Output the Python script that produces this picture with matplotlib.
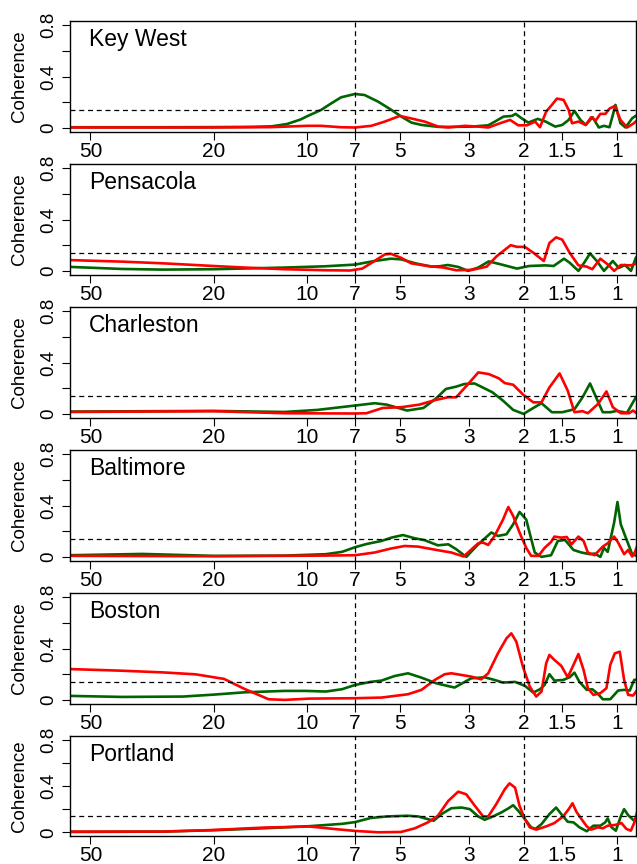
import matplotlib
matplotlib.use("Agg")
import matplotlib.pyplot as plt
from matplotlib.ticker import NullLocator

plt.rcParams["font.family"] = ["Liberation Sans", "DejaVu Sans"]

# period (years) and coherence, per station and series
key_west_grn_per = [58.2, 30, 20, 15, 13, 11.6, 10.5, 10, 9.0, 8.36, 7.76, 7.0, 6.52, 5.9, 5.34,
                    4.96, 4.6, 4.27, 3.77, 3.33, 2.94, 2.6, 2.47, 2.32, 2.18, 2.12, 2.03, 1.93,
                    1.8, 1.7, 1.58, 1.5, 1.43, 1.37, 1.31, 1.26, 1.197, 1.143, 1.1, 1.056, 1.03,
                    1.01, 0.973, 0.937, 0.892, 0.853]
key_west_grn_coh = [0.005, 0.005, 0.006, 0.008, 0.012, 0.03, 0.065, 0.09, 0.14, 0.19, 0.238,
                    0.264, 0.256, 0.205, 0.14, 0.088, 0.041, 0.023, 0.008, 0.008, 0.01, 0.02,
                    0.05, 0.088, 0.093, 0.109, 0.075, 0.041, 0.07, 0.05, 0.01, 0.023, 0.062,
                    0.132, 0.062, 0.023, 0.083, 0.003, 0.016, 0.005, 0.1, 0.179, 0.036, 0.003,
                    0.075, 0.106]
key_west_red_per = [58.2, 20, 13, 10, 9.0, 7.76, 7.0, 6.2, 5.61, 5.02, 4.6, 4.17, 3.77, 3.5,
                    3.09, 2.8, 2.6, 2.35, 2.21, 2.08, 1.95, 1.835, 1.77, 1.69, 1.62, 1.56,
                    1.485, 1.43, 1.395, 1.33, 1.26, 1.21, 1.17, 1.13, 1.088, 1.056, 1.015,
                    0.973, 0.926, 0.881, 0.853]
key_west_red_coh = [0.003, 0.003, 0.006, 0.016, 0.016, 0.005, 0.003, 0.016, 0.049, 0.093,
                    0.073, 0.049, 0.01, 0.003, 0.016, 0.01, 0.003, 0.041, 0.062, 0.02, 0.02,
                    0.049, 0.005, 0.127, 0.179, 0.228, 0.218, 0.14, 0.036, 0.049, 0.023,
                    0.083, 0.057, 0.109, 0.109, 0.15, 0.171, 0.062, 0.003, 0.036, 0.067]

pensacola_grn_per = [58.2, 39.5, 29.2, 20, 11.8, 8.7, 7.0, 6.05, 5.36, 4.97, 4.47, 3.96, 3.73,
                     3.51, 3.25, 3.02, 2.8, 2.59, 2.37, 2.1, 1.92, 1.7, 1.6, 1.48, 1.42, 1.33,
                     1.27, 1.22, 1.16, 1.1, 1.03, 0.985, 0.941, 0.9, 0.868]
pensacola_grn_coh = [0.031, 0.015, 0.01, 0.013, 0.026, 0.036, 0.049, 0.077, 0.095, 0.09,
                     0.059, 0.033, 0.036, 0.046, 0.031, 0.0, 0.026, 0.074, 0.051, 0.018,
                     0.038, 0.043, 0.038, 0.095, 0.064, 0.0, 0.069, 0.136, 0.077, 0.0, 0.077,
                     0.023, 0.046, 0.0, 0.102]
pensacola_red_per = [58.2, 39.5, 29.2, 20, 15.9, 11.8, 8.7, 7.26, 6.63, 6.05, 5.61, 5.36, 4.97,
                     4.61, 4.08, 3.62, 3.3, 2.93, 2.63, 2.44, 2.2, 2.1, 1.98, 1.86, 1.72, 1.65,
                     1.57, 1.5, 1.42, 1.33, 1.25, 1.2, 1.13, 1.06, 1.02, 0.97, 0.9, 0.868]
pensacola_red_coh = [0.084, 0.072, 0.059, 0.038, 0.026, 0.013, 0.005, 0.003, 0.018, 0.077,
                     0.128, 0.133, 0.102, 0.059, 0.038, 0.026, 0.005, 0.008, 0.033, 0.115,
                     0.2, 0.187, 0.187, 0.141, 0.077, 0.217, 0.261, 0.243, 0.141, 0.043,
                     0.033, 0.013, 0.095, 0.043, 0.0, 0.046, 0.043, 0.056]

charleston_grn_per = [58.2, 20, 11.8, 9.25, 7.0, 6.05, 5.53, 4.75, 4.21, 3.85, 3.56, 3.3,
                      3.11, 2.88, 2.71, 2.52, 2.33, 2.16, 2.0, 1.86, 1.75, 1.62, 1.5, 1.37,
                      1.29, 1.22, 1.16, 1.11, 1.05, 1.0, 0.927, 0.868]
charleston_grn_coh = [0.018, 0.023, 0.015, 0.031, 0.065, 0.083, 0.072, 0.026, 0.046, 0.116,
                      0.194, 0.212, 0.232, 0.237, 0.206, 0.168, 0.103, 0.031, 0.0, 0.046,
                      0.083, 0.013, 0.013, 0.036, 0.129, 0.237, 0.116, 0.013, 0.013, 0.023,
                      0.008, 0.129]
charleston_red_per = [58.2, 20, 11.8, 7.0, 6.43, 5.7, 4.97, 4.34, 3.85, 3.51, 3.3, 3.02, 2.8,
                      2.59, 2.4, 2.3, 2.16, 2.0, 1.86, 1.75, 1.65, 1.53, 1.44, 1.37, 1.29,
                      1.24, 1.15, 1.08, 1.03, 0.97, 0.913, 0.886, 0.868]
charleston_red_coh = [0.015, 0.021, 0.005, 0.003, 0.005, 0.046, 0.052, 0.072, 0.108, 0.129,
                      0.129, 0.232, 0.323, 0.31, 0.276, 0.24, 0.227, 0.147, 0.09, 0.09,
                      0.206, 0.315, 0.181, 0.013, 0.021, 0.005, 0.077, 0.175, 0.052, 0.005,
                      0.005, 0.026, 0.01]

baltimore_grn_per = [58.2, 34, 20, 11.8, 8.7, 7.71, 7.0, 6.43, 5.75, 5.34, 4.9, 4.49, 4.17,
                     3.78, 3.5, 3.3, 3.06, 2.8, 2.54, 2.42, 2.27, 2.16, 2.06, 1.96, 1.9, 1.84,
                     1.75, 1.63, 1.55, 1.47, 1.38, 1.3, 1.22, 1.18, 1.13, 1.1, 1.07, 1.02,
                     0.995, 0.971, 0.931, 0.892, 0.864]
baltimore_grn_coh = [0.013, 0.023, 0.008, 0.01, 0.021, 0.039, 0.075, 0.1, 0.124, 0.15, 0.17,
                     0.145, 0.13, 0.09, 0.098, 0.06, 0.0, 0.098, 0.19, 0.163, 0.176, 0.254,
                     0.35, 0.29, 0.163, 0.034, 0.0, 0.013, 0.124, 0.132, 0.054, 0.034, 0.021,
                     0.026, 0.0, 0.07, 0.039, 0.267, 0.427, 0.254, 0.137, 0.021, 0.008]
baltimore_red_per = [58.2, 20, 8.7, 7.0, 6.05, 5.36, 4.84, 4.38, 3.78, 3.42, 3.12, 2.98, 2.8,
                     2.7, 2.6, 2.48, 2.33, 2.24, 2.16, 2.06, 1.96, 1.89, 1.79, 1.71, 1.63,
                     1.59, 1.51, 1.45, 1.4, 1.33, 1.28, 1.24, 1.18, 1.11, 1.07, 1.02, 0.99,
                     0.947, 0.919, 0.892, 0.875, 0.858]
baltimore_red_coh = [0.008, 0.005, 0.01, 0.013, 0.034, 0.065, 0.085, 0.08, 0.052, 0.034,
                     0.003, 0.047, 0.106, 0.111, 0.093, 0.163, 0.29, 0.388, 0.318, 0.189,
                     0.07, 0.008, 0.008, 0.07, 0.116, 0.158, 0.15, 0.155, 0.098, 0.158, 0.124,
                     0.034, 0.013, 0.08, 0.106, 0.158, 0.111, 0.021, 0.054, 0.003, 0.034, 0.09]

boston_grn_per = [58.2, 39.5, 25.1, 20, 15.9, 11.8, 10.1, 8.7, 7.71, 7.0, 6.24, 5.75, 5.21,
                  4.72, 4.27, 3.82, 3.34, 2.95, 2.67, 2.48, 2.33, 2.13, 1.98, 1.86, 1.77, 1.71,
                  1.65, 1.59, 1.49, 1.42, 1.37, 1.32, 1.25, 1.2, 1.15, 1.11, 1.05, 0.99,
                  0.947, 0.908, 0.879, 0.858]
boston_grn_coh = [0.031, 0.023, 0.026, 0.041, 0.059, 0.07, 0.07, 0.065, 0.083, 0.116, 0.14,
                  0.15, 0.186, 0.207, 0.173, 0.129, 0.096, 0.168, 0.176, 0.155, 0.135, 0.14,
                  0.109, 0.057, 0.083, 0.117, 0.2, 0.15, 0.155, 0.176, 0.212, 0.14, 0.078,
                  0.083, 0.047, 0.005, 0.005, 0.073, 0.078, 0.073, 0.155, 0.16]
boston_red_per = [58.2, 39.5, 29.2, 22.9, 18.5, 15.9, 13.3, 11.8, 9.8, 7.0, 5.75, 4.72, 4.27,
                  3.87, 3.59, 3.42, 3.17, 2.95, 2.74, 2.6, 2.42, 2.27, 2.19, 2.11, 2.01, 1.91,
                  1.82, 1.75, 1.69, 1.65, 1.59, 1.51, 1.44, 1.38, 1.33, 1.28, 1.24, 1.19,
                  1.13, 1.08, 1.05, 1.015, 0.978, 0.947, 0.919, 0.886, 0.858]
boston_red_coh = [0.24, 0.227, 0.214, 0.199, 0.163, 0.085, 0.005, 0.0, 0.01, 0.013, 0.018,
                  0.044, 0.078, 0.155, 0.2, 0.207, 0.194, 0.181, 0.16, 0.207, 0.362, 0.479,
                  0.518, 0.453, 0.259, 0.104, 0.026, 0.065, 0.285, 0.35, 0.311, 0.264, 0.176,
                  0.272, 0.357, 0.233, 0.091, 0.039, 0.052, 0.091, 0.272, 0.362, 0.375,
                  0.155, 0.039, 0.034, 0.078]

portland_grn_per = [58.2, 29.2, 20, 13.7, 9.8, 7.71, 7.0, 6.24, 5.53, 4.75, 4.38, 3.9, 3.68,
                    3.42, 3.17, 2.98, 2.8, 2.67, 2.51, 2.36, 2.24, 2.16, 2.08, 1.98, 1.89,
                    1.83, 1.75, 1.65, 1.57, 1.49, 1.44, 1.38, 1.32, 1.25, 1.19, 1.13, 1.09,
                    1.07, 1.04, 1.007, 0.971, 0.947, 0.919, 0.879, 0.858]
portland_grn_coh = [0.003, 0.006, 0.018, 0.035, 0.053, 0.073, 0.088, 0.123, 0.137, 0.143,
                    0.137, 0.1, 0.157, 0.208, 0.214, 0.2, 0.137, 0.108, 0.137, 0.171, 0.206,
                    0.234, 0.186, 0.114, 0.043, 0.029, 0.071, 0.157, 0.214, 0.137, 0.091,
                    0.086, 0.043, 0.009, 0.057, 0.057, 0.086, 0.12, 0.043, 0.014, 0.137, 0.2,
                    0.148, 0.1, 0.137]
portland_red_per = [58.2, 29.2, 20, 13.7, 9.8, 8.19, 7.0, 5.87, 4.97, 4.49, 4.07, 3.78, 3.5,
                    3.25, 3.06, 2.87, 2.7, 2.6, 2.45, 2.3, 2.22, 2.13, 2.06, 1.98, 1.91, 1.82,
                    1.69, 1.59, 1.49, 1.43, 1.39, 1.35, 1.3, 1.25, 1.21, 1.15, 1.11, 1.07,
                    1.015, 0.966, 0.931, 0.901, 0.879, 0.858]
portland_red_coh = [0.006, 0.006, 0.02, 0.041, 0.05, 0.029, 0.012, 0.0, 0.003, 0.034, 0.086,
                    0.143, 0.271, 0.351, 0.328, 0.228, 0.137, 0.137, 0.243, 0.371, 0.423,
                    0.386, 0.228, 0.114, 0.043, 0.023, 0.051, 0.08, 0.137, 0.2, 0.251, 0.177,
                    0.114, 0.051, 0.023, 0.043, 0.034, 0.057, 0.063, 0.08, 0.029, 0.014, 0.08,
                    0.186]

station_names = ["Key West", "Pensacola", "Charleston", "Baltimore", "Boston", "Portland"]
period_ticks = [50, 20, 10, 7, 5, 3, 2, 1.5, 1]
period_labels = ["50", "20", "10", "7", "5", "3", "2", "1.5", "1"]
coh_ticks = [0, 0.2, 0.4, 0.6, 0.8]
coh_labels = ["0", "", "0.4", "", "0.8"]
marked_periods = [7, 2]
signif_level = 0.138

series = [
    (key_west_grn_per, key_west_grn_coh, key_west_red_per, key_west_red_coh),
    (pensacola_grn_per, pensacola_grn_coh, pensacola_red_per, pensacola_red_coh),
    (charleston_grn_per, charleston_grn_coh, charleston_red_per, charleston_red_coh),
    (baltimore_grn_per, baltimore_grn_coh, baltimore_red_per, baltimore_red_coh),
    (boston_grn_per, boston_grn_coh, boston_red_per, boston_red_coh),
    (portland_grn_per, portland_grn_coh, portland_red_per, portland_red_coh),
]

W, H = 637, 864
fig = plt.figure(figsize=(W / 100, H / 100), dpi=100)

# panel frames in pixels (the last one is squeezed in the reference)
left, width = 70, 566
tops = [21, 164, 307, 450, 593, 736]
heights = [111, 111, 111, 111, 111, 100]

for name, (gp, gc, rp, rc), top, h in zip(station_names, series, tops, heights):
    ax = fig.add_axes([left / W, (H - top - h) / H, width / W, h / H])

    ax.plot(gp, gc, color="#006400", lw=1.9, solid_joinstyle="round")
    ax.plot(rp, rc, color="#ff0000", lw=1.9, solid_joinstyle="round")

    for p in marked_periods:
        ax.axvline(p, color="black", lw=0.9, ls=(0, (4, 3)))
    ax.axhline(signif_level, color="black", lw=0.9, ls=(0, (4, 3)))

    ax.set_xscale("log")
    ax.set_xlim(58.2, 0.867)
    ax.set_ylim(-0.032, 0.832)
    ax.set_xticks(period_ticks)
    ax.set_xticklabels(period_labels)
    ax.xaxis.set_minor_locator(NullLocator())
    ax.set_yticks(coh_ticks)
    ax.set_yticklabels(coh_labels)

    ax.tick_params(axis="x", direction="out", length=5.5, width=0.8, pad=2, labelsize=15)
    ax.tick_params(axis="y", direction="out", length=5.5, width=0.8, pad=3.5, labelsize=13.5)
    for lab in ax.get_yticklabels():
        lab.set_rotation(90)
        lab.set_va("center")

    for sp in ax.spines.values():
        sp.set_linewidth(1.0)
        sp.set_color("black")

    ax.set_ylabel("Coherence", fontsize=13.5)
    ax.yaxis.set_label_coords(-42 / width, 0.5)

    ax.text(19 / width, 1 - 24.7 / h, name, transform=ax.transAxes, fontsize=16.5,
            ha="left", va="baseline")

fig.savefig("out.png", dpi=100)
